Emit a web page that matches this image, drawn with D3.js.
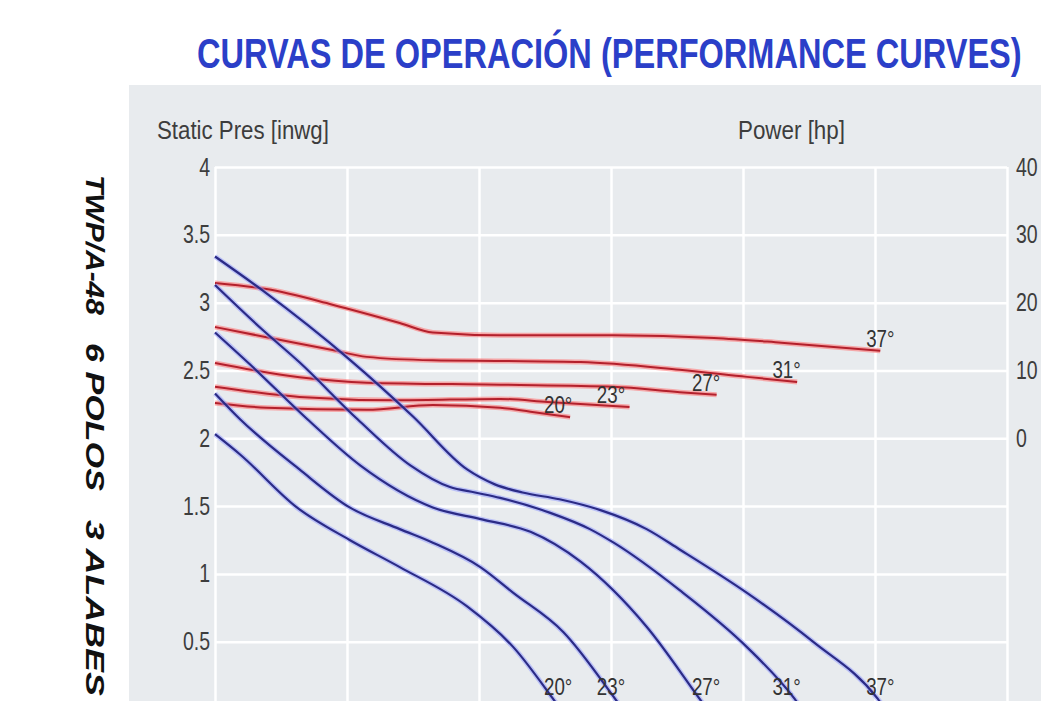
<!DOCTYPE html>
<html lang="es">
<head>
<meta charset="utf-8">
<script src="https://d3js.org/d3.v7.min.js"></script>
<style>
  body { margin: 0; background: #ffffff; }
  svg { display: block; }
  .sans { font-family: "Liberation Sans", Arial, sans-serif; }
</style>
</head>
<body>
<svg id="chart" width="1041" height="701"></svg>
<script>
// ---- data (flow in grid units 0..6) ----
const angles = ["20°", "23°", "27°", "31°", "37°"];
const labelFlow = [2.6, 3.0, 3.72, 4.33, 5.04];
const flowTicks = [0, 1, 2, 3, 4, 5, 6];
const presTicks = [0.5, 1, 1.5, 2, 2.5, 3, 3.5, 4];
const powerTicks = [0, 10, 20, 30, 40];

// static pressure curves [flow, inwg]
const pres20 = [[0, 2.03], [0.19, 1.88], [0.62, 1.49], [1.02, 1.25], [1.40, 1.05], [1.91, 0.76], [2.26, 0.46], [2.56, 0.08], [2.62, 0]];
const pres23 = [[0, 2.33], [0.19, 2.14], [0.64, 1.77], [1.02, 1.49], [1.40, 1.33], [1.65, 1.23], [2.01, 1.05], [2.26, 0.86], [2.64, 0.57], [3.03, 0.08], [3.09, 0]];
const pres27 = [[0, 2.78], [0.27, 2.54], [0.70, 2.14], [1.10, 1.80], [1.65, 1.49], [2.03, 1.40], [2.39, 1.31], [2.77, 1.09], [3.27, 0.61], [3.67, 0.08], [3.73, 0]];
const pres31 = [[0, 3.13], [0.36, 2.80], [0.64, 2.56], [1.08, 2.14], [1.48, 1.80], [1.78, 1.64], [1.97, 1.60], [2.16, 1.56], [2.54, 1.45], [2.84, 1.33], [3.02, 1.23], [3.52, 0.88], [4.03, 0.46], [4.39, 0.08], [4.45, 0]];
const pres37 = [[0, 3.34], [0.36, 3.09], [1.02, 2.58], [1.50, 2.16], [1.91, 1.77], [2.12, 1.66], [2.33, 1.60], [2.61, 1.55], [2.92, 1.47], [3.27, 1.33], [3.52, 1.18], [4.03, 0.86], [4.53, 0.50], [5.02, 0.08], [5.08, 0]];

// power curves [flow, hp]
const power20 = [[0, 5.2], [0.39, 4.5], [1.15, 4.2], [1.65, 4.9], [2.16, 4.5], [2.39, 3.9], [2.69, 3.1]];
const power23 = [[0, 7.6], [0.64, 6.1], [1.40, 5.6], [2.16, 5.8], [2.52, 5.35], [3.14, 4.6]];
const power27 = [[0, 11.1], [0.64, 9.0], [1.15, 8.2], [2.16, 7.9], [3.02, 7.6], [3.52, 6.8], [3.80, 6.4]];
const power31 = [[0, 16.4], [0.39, 14.9], [0.89, 13.0], [1.15, 12.0], [1.65, 11.5], [2.16, 11.4], [2.77, 11.25], [3.52, 10.1], [4.03, 9.05], [4.41, 8.3]];
const power37 = [[0, 22.9], [0.39, 22.0], [0.89, 19.7], [1.40, 17.0], [1.65, 15.6], [2.16, 15.2], [3.02, 15.2], [3.78, 14.8], [4.29, 14.1], [5.04, 12.9]];

const presCurves = [pres20, pres23, pres27, pres31, pres37];
const powerCurves = [power20, power23, power27, power31, power37];

// ---- layout ----
const svg = d3.select("#chart");
const plotLeft = 215, plotRight = 1007, plotTop = 167, plotBottom = 709.5;
const squeeze = "scale(0.78,1)";

const x = d3.scaleLinear().domain([0, 6]).range([plotLeft, plotRight]);
const y = d3.scaleLinear().domain([0, 4]).range([plotBottom, plotTop]);
const yP = d3.scaleLinear().domain([0, 40]).range([y(2), y(4)]);

// squeeze a text horizontally so it spans `width` px, starting at (x0, y0)
function fitText(sel, x0, y0, width, extra) {
    const len = sel.node().getComputedTextLength();
    sel.attr("transform", "translate(" + x0 + "," + y0 + ")" + (extra || "") + " scale(" + (width / len) + ",1)");
    return sel;
}

// panel
svg.append("rect")
    .attr("x", 129).attr("y", 85)
    .attr("width", 1041 - 129).attr("height", 701 - 85)
    .attr("fill", "#e8ebee");

// grid
svg.append("g")
    .attr("transform", "translate(0," + plotBottom + ")")
    .call(d3.axisBottom(x).tickValues(flowTicks).tickSize(-(plotBottom - plotTop)).tickFormat(""))
    .call(g => g.select(".domain").remove())
    .call(g => g.selectAll(".tick line").attr("stroke", "#ffffff").attr("stroke-width", 2.5));

svg.append("g")
    .attr("transform", "translate(" + plotLeft + ",0)")
    .call(d3.axisLeft(y).tickValues(presTicks).tickSize(-(plotRight - plotLeft)).tickFormat(""))
    .call(g => g.select(".domain").remove())
    .call(g => g.selectAll(".tick line").attr("stroke", "#ffffff").attr("stroke-width", 2.5));

// left tick labels
svg.append("g")
    .attr("transform", "translate(" + (plotLeft - 5) + ",0)")
    .call(d3.axisLeft(y).tickValues(presTicks).tickSize(0).tickPadding(0).tickFormat(d3.format("")))
    .call(g => g.select(".domain").remove())
    .call(g => g.selectAll("text")
        .attr("font-family", "'Liberation Sans', Arial, sans-serif")
        .attr("font-size", 25)
        .attr("transform", squeeze)
        .attr("fill", "#3d3d3d"));

// right tick labels
svg.append("g")
    .attr("transform", "translate(" + (plotRight + 9) + ",0)")
    .call(d3.axisRight(yP).tickValues(powerTicks).tickSize(0).tickPadding(0).tickFormat(d3.format("")))
    .call(g => g.select(".domain").remove())
    .call(g => g.selectAll("text")
        .attr("font-family", "'Liberation Sans', Arial, sans-serif")
        .attr("font-size", 25)
        .attr("transform", squeeze)
        .attr("fill", "#3d3d3d"));

// axis titles
svg.append("text")
    .attr("class", "sans")
    .attr("font-size", 26)
    .attr("fill", "#3d3d3d")
    .text("Static Pres [inwg]")
    .call(fitText, 157, 139, 172);

svg.append("text")
    .attr("class", "sans")
    .attr("font-size", 26)
    .attr("fill", "#3d3d3d")
    .text("Power [hp]")
    .call(fitText, 738, 139, 107);

// title
svg.append("text")
    .attr("class", "sans")
    .attr("font-weight", "bold")
    .attr("font-size", 42)
    .attr("fill", "#2b3fc8")
    .text("CURVAS DE OPERACIÓN (PERFORMANCE CURVES)")
    .call(fitText, 197, 68, 825);

// vertical model text
const sideText = [["TWP/A-48", 175, 140], ["6 POLOS", 343, 148], ["3 ALABES", 520, 176]];
sideText.forEach(([t, y0, len]) => {
    svg.append("text")
        .attr("class", "sans")
        .attr("font-weight", "bold")
        .attr("font-style", "italic")
        .attr("font-size", 25)
        .attr("fill", "#111111")
        .text(t)
        .call(fitText, 86, y0, len, " rotate(90)");
});

// curves
const line = d3.line()
    .x(d => x(d[0]))
    .y(d => y(d[1]))
    .curve(d3.curveMonotoneX);

const lineP = d3.line()
    .x(d => x(d[0]))
    .y(d => yP(d[1]))
    .curve(d3.curveMonotoneX);

const curves = svg.append("g");

// power (red)
curves.selectAll(".pw-halo")
    .data(powerCurves).enter().append("path")
    .attr("d", lineP)
    .attr("fill", "none")
    .attr("stroke", "#ff6f6f")
    .attr("stroke-opacity", 0.55)
    .attr("stroke-width", 5);
curves.selectAll(".pw")
    .data(powerCurves).enter().append("path")
    .attr("d", lineP)
    .attr("fill", "none")
    .attr("stroke", "#b3202c")
    .attr("stroke-width", 2);

// pressure (blue)
curves.selectAll(".pr-halo")
    .data(presCurves).enter().append("path")
    .attr("d", line)
    .attr("fill", "none")
    .attr("stroke", "#8e98ff")
    .attr("stroke-opacity", 0.5)
    .attr("stroke-width", 5);
curves.selectAll(".pr")
    .data(presCurves).enter().append("path")
    .attr("d", line)
    .attr("fill", "none")
    .attr("stroke", "#2b2b86")
    .attr("stroke-width", 2.2);

// angle labels (centre x shared by the red and blue labels of one blade angle)
const labels = svg.append("g").attr("class", "sans")
    .attr("font-size", 24).attr("fill", "#333333").attr("text-anchor", "middle");

labels.selectAll(".lp")
    .data(powerCurves).enter().append("g")
    .attr("transform", (d, i) => "translate(" + x(labelFlow[i]) + "," + (yP(d[d.length - 1][1]) - 4) + ")")
    .append("text")
    .attr("transform", squeeze)
    .text((d, i) => angles[i]);

labels.selectAll(".lb")
    .data(presCurves).enter().append("g")
    .attr("transform", (d, i) => "translate(" + x(labelFlow[i]) + "," + (y(0) - 15) + ")")
    .append("text")
    .attr("transform", squeeze)
    .text((d, i) => angles[i]);
</script>
</body>
</html>
